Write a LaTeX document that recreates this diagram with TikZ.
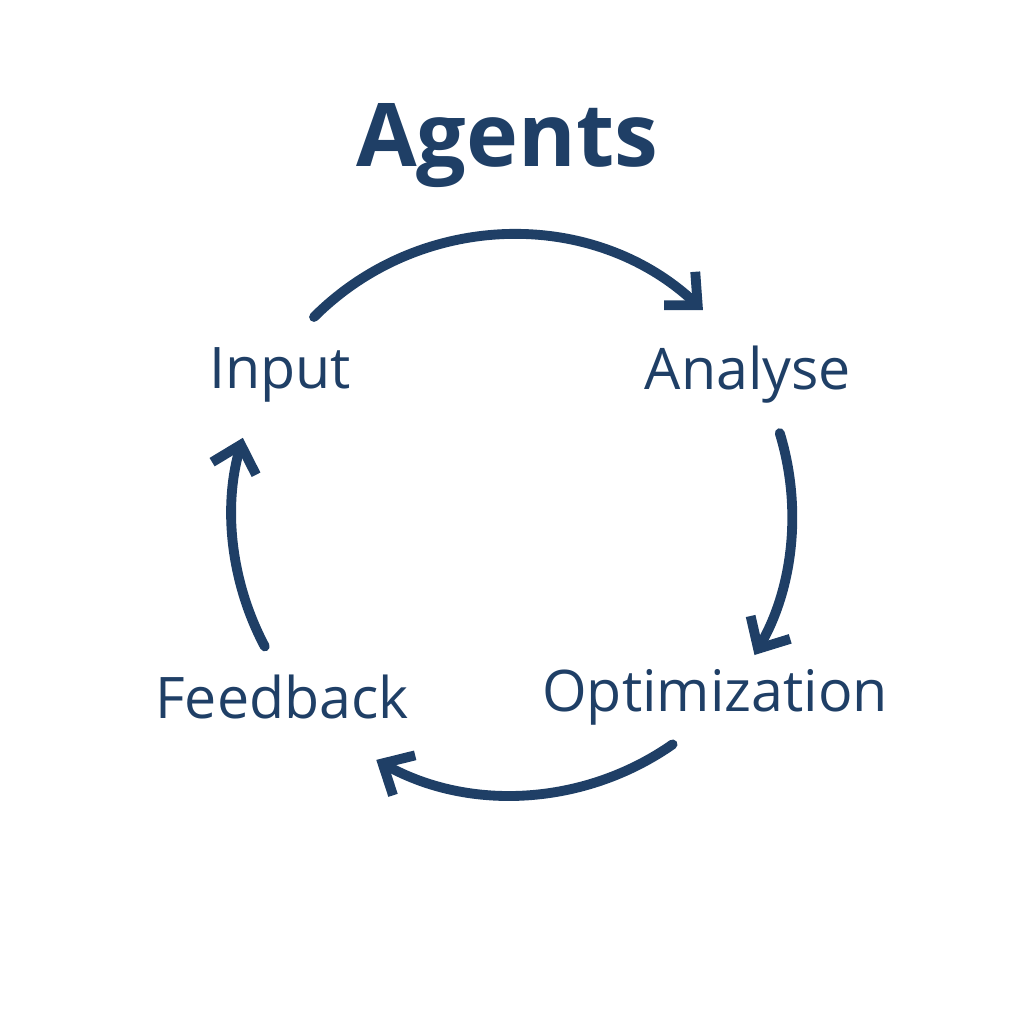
\documentclass[tikz,border=0pt]{standalone}
\usepackage{fontspec}
\setmainfont{Open Sans}
\usetikzlibrary{arrows.meta}
\definecolor{navy}{HTML}{1F3F66}
\begin{document}
\begin{tikzpicture}[x=0.01cm,y=-0.01cm,
  lbl/.style={text=navy,font=\fontsize{16.3}{20}\selectfont},
  arc/.style={navy,line width=2.8pt,line cap=round,-{Straight Barb[length=7pt,width=13pt,line width=2.8pt]}}]
\useasboundingbox (0,0) rectangle (1024,1024);
\node[text=navy,font=\fontsize{25}{30}\selectfont\bfseries] (title) at (507,146) {Agents};
\node[lbl] (in) at (280,375) {Input};
\node[lbl] (an) at (748,375) {Analyse};
\node[lbl] (op) at (715,697) {Optimization};
\node[lbl] (fb) at (282,697) {Feedback};
\coordinate (c) at (512,515);
\draw[arc] ([shift={(-135:280)}]c) arc[start angle=-135,end angle=-47,radius=280];
\draw[arc] ([shift={(-17:280)}]c) arc[start angle=-17,end angle=30,radius=280];
\draw[arc] ([shift={(55:280)}]c) arc[start angle=55,end angle=119,radius=280];
\draw[arc] ([shift={(152:280)}]c) arc[start angle=152,end angle=196,radius=280];
\end{tikzpicture}
\end{document}
